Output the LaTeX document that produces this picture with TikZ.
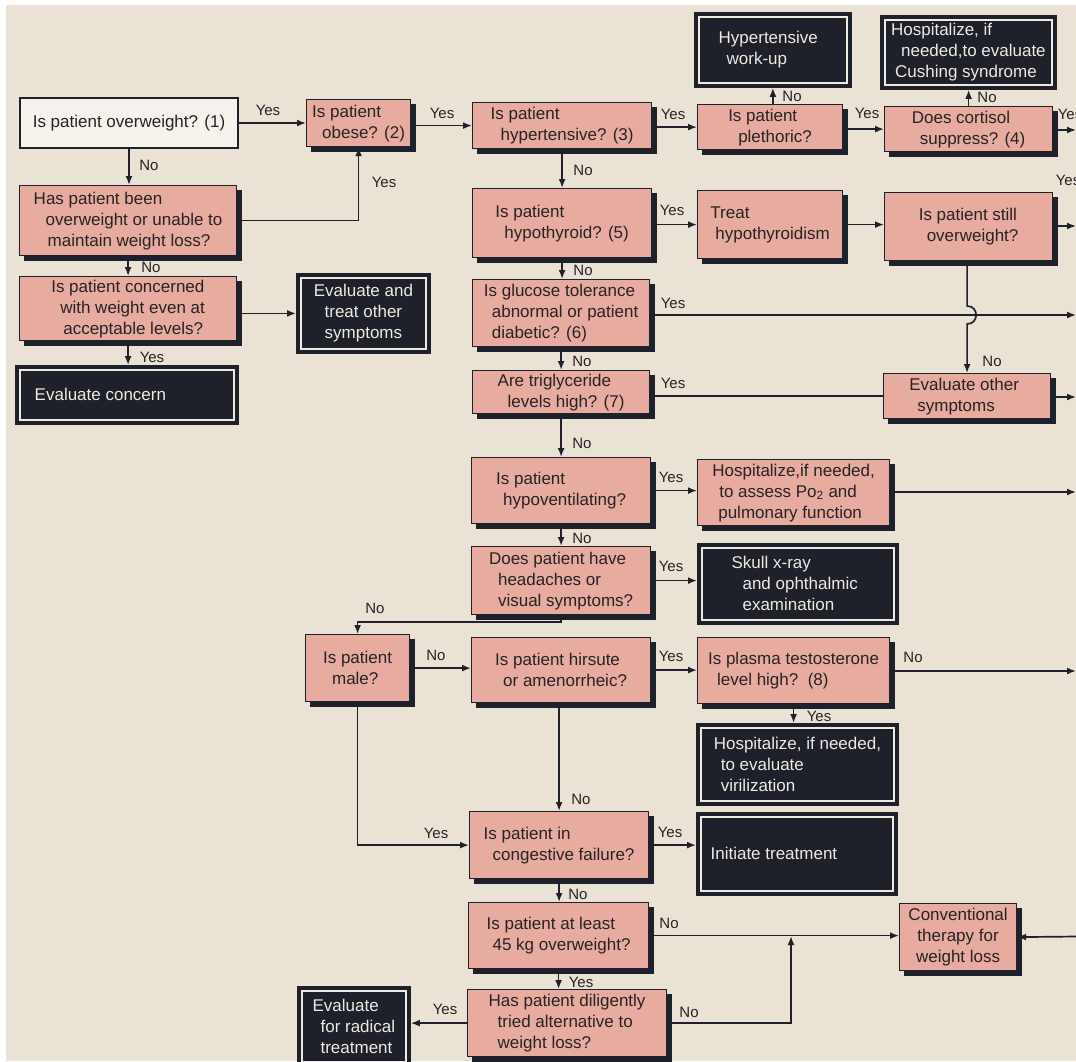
\documentclass[tikz,border=0pt]{standalone}
\usepackage{fontspec}
\setmainfont{Liberation Sans}
\usetikzlibrary{arrows.meta,calc}

\definecolor{paper}{RGB}{233,226,213}
\definecolor{rose}{RGB}{231,171,159}
\definecolor{ink}{RGB}{30,32,42}
\definecolor{cream}{RGB}{238,234,226}
\definecolor{txt}{RGB}{40,34,36}
\definecolor{whitebox}{RGB}{246,243,237}

\newcommand\boxfont{\fontsize{17pt}{21pt}\selectfont}
\newcommand\labfont{\fontsize{15pt}{18pt}\selectfont}
\newcommand\indn[1]{\hspace*{#1pt}}

\pgfdeclarelayer{paperlayer}
\pgfdeclarelayer{wirelayer}
\pgfsetlayers{paperlayer,wirelayer,main}

\tikzset{
  qbox/.style={fill=rose, draw=ink, line width=1.2pt, anchor=north west,
    inner sep=0pt, align=left, text=txt, font=\boxfont,
    preaction={fill=ink, draw=ink, transform canvas={shift={(5pt,-5pt)}}}},
  wbox/.style={fill=whitebox, draw=ink, line width=2pt, anchor=north west,
    inner sep=0pt, align=left, text=txt, font=\boxfont},
  dbox/.style={fill=ink, draw=ink, line width=0.8pt, anchor=north west,
    inner sep=0pt, align=left, text=cream, font=\boxfont,
    path picture={\draw[cream, line width=1.5pt]
      ([shift={(4.5pt,4.5pt)}]path picture bounding box.south west) rectangle
      ([shift={(-4.5pt,-4.5pt)}]path picture bounding box.north east);}},
  lab/.style={font=\labfont, text=txt, inner sep=0pt},
  wire/.style={draw=ink, line width=1.7pt},
  arr/.style={wire, -{Latex[length=9pt,width=7pt]}}
}

\begin{document}
\begin{tikzpicture}[x=1pt, y=-1pt]
\useasboundingbox (0,0) rectangle (1076,1061);

\begin{pgfonlayer}{paperlayer}
  \fill[white] (0,0) rectangle (1076,1061);
  \fill[paper] (6,5) rectangle (1076,1061);
\end{pgfonlayer}

% ---- left column
\node[wbox, minimum width=218pt, minimum height=50pt] (overw) at (19,97) {Is patient overweight? (1)};
\node[qbox, minimum width=104pt, minimum height=47pt] (obese) at (306,99) {Is patient\\\indn{10}obese? (2)};
\node[qbox, minimum width=217pt, minimum height=70pt] (overw2) at (19,185)
  {Has patient been\\\indn{12}overweight or unable to\\\indn{14}maintain weight loss?};
\node[qbox, minimum width=217pt, minimum height=64pt] (concern) at (19,276)
  {Is patient concerned\\\indn{9}with weight even at\\\indn{12}acceptable levels?};
\node[dbox, minimum width=134pt, minimum height=80pt, align=center] (evtreat) at (296,273)
  {Evaluate and\\treat other\\symptoms};
\node[dbox, minimum width=223pt, minimum height=59pt] (evconc) at (15,365)
  {Evaluate concern\hspace*{53pt}};

% ---- top row
\node[qbox, minimum width=179pt, minimum height=46pt] (hyper) at (472,102) {Is patient\\\indn{10}hypertensive? (3)};
\node[qbox, minimum width=145pt, minimum height=45pt] (pleth) at (697,104) {Is patient\\\indn{10}plethoric?};
\node[dbox, minimum width=157pt, minimum height=75pt] (workup) at (694,12) {Hypertensive\\\indn{8}work-up\hspace*{20pt}\hspace*{20pt}};
\node[qbox, minimum width=168pt, minimum height=45pt] (cort) at (884,106) {Does cortisol\\\indn{8}suppress? (4)};
\node[dbox, minimum width=176pt, minimum height=74pt] (cush) at (880,15)
  {Hospitalize, if\\\indn{10}needed,to evaluate\\\indn{4}Cushing syndrome};

% ---- middle column
\node[qbox, minimum width=179pt, minimum height=69pt] (hypo) at (472,188) {Is patient\\\indn{9}hypothyroid? (5)};
\node[qbox, minimum width=145pt, minimum height=68pt] (treat) at (697,190) {Treat\\\indn{5}hypothyroidism};
\node[qbox, minimum width=168pt, minimum height=68pt] (still) at (884,192) {Is patient still\\\indn{8}overweight?};
\node[qbox, minimum width=177pt, minimum height=67pt] (gluc) at (472,279)
  {Is glucose tolerance\\\indn{8}abnormal or patient\\\indn{8}diabetic? (6)};
\node[qbox, minimum width=177pt, minimum height=43pt] (trig) at (472,370) {Are triglyceride\\\indn{10}levels high? (7)};
\node[qbox, minimum width=167pt, minimum height=45pt] (evoth) at (883,373) {Evaluate other\\\indn{8}symptoms\hspace*{30pt}};
\node[qbox, minimum width=179pt, minimum height=66pt] (hypov) at (471,457) {Is patient\\\indn{7}hypoventilating?};
\node[qbox, minimum width=192pt, minimum height=66pt] (po2) at (697,459)
  {Hospitalize,if needed,\\\indn{7}to assess Po\textsubscript{2} and\\\indn{6}pulmonary function};
\node[qbox, minimum width=179pt, minimum height=68pt] (head) at (471,546)
  {Does patient have\\\indn{9}headaches or\\\indn{9}visual symptoms?};
\node[dbox, minimum width=201pt, minimum height=81pt] (skull) at (697,543)
  {Skull x-ray\\\indn{11}and ophthalmic\\\indn{11}examination\hspace*{30pt}};
\node[qbox, minimum width=104pt, minimum height=67pt] (male) at (305,634) {Is patient\\\indn{9}male?};
\node[qbox, minimum width=179pt, minimum height=65pt] (hirs) at (471,637) {Is patient hirsute\\\indn{8}or amenorrheic?};
\node[qbox, minimum width=192pt, minimum height=66pt] (testo) at (697,637)
  {Is plasma testosterone\\\indn{9}level high?~~(8)};
\node[dbox, minimum width=202pt, minimum height=82pt] (viril) at (696,723)
  {Hospitalize, if needed,\\\indn{7}to evaluate\\\indn{7}virilization};
\node[qbox, minimum width=179pt, minimum height=67pt] (cong) at (469,811) {Is patient in\\\indn{9}congestive failure?};
\node[dbox, minimum width=201pt, minimum height=83pt] (init) at (696,812) {Initiate treatment\hspace*{46pt}};
\node[qbox, minimum width=180pt, minimum height=66pt] (kg45) at (468,902) {Is patient at least\\\indn{6}45 kg overweight?};
\node[qbox, minimum width=117pt, minimum height=67pt, align=center] (conv) at (899,903)
  {Conventional\\therapy for\\weight loss};
\node[qbox, minimum width=199pt, minimum height=67pt] (dilig) at (467,989)
  {Has patient diligently\\\indn{9}tried alternative to\\\indn{9}weight loss?};
\node[dbox, minimum width=113pt, minimum height=80pt] (radical) at (297,986)
  {Evaluate\\\indn{8}for radical\\\indn{8}treatment};

% ---- free ends at the right margin
\coordinate (rc) at (1076,130);
\coordinate (rs) at (1076,226);
\coordinate (rg) at (1076,315);
\coordinate (re) at (1076,397);
\coordinate (rp) at (1076,492);
\coordinate (rt) at (1076,671);
\coordinate (rv) at (1076,936.5);
\coordinate (merge) at (791,936);

% ---- connectors
\begin{pgfonlayer}{wirelayer}
\draw[arr] (overw.east) -- (overw.east -| obese.west);
\draw[arr] (obese.east |- hyper.west) -- (hyper.west);
\draw[arr] (overw.south) -- (overw.south |- overw2.north);
\draw[arr] (overw2.east) -| (obese.south);
\draw[arr] (overw2.south) -- (overw2.south |- concern.north);
\draw[arr] (concern.east |- evtreat.west) -- (evtreat.west);
\draw[arr] (concern.south) -- (concern.south |- evconc.north);

\draw[arr] (hyper.east |- pleth.west) -- (pleth.west);
\draw[arr] (workup.south |- pleth.north) -- (workup.south);
\draw[arr] (pleth.east |- cort.west) -- (cort.west);
\draw[arr] (cort.north) -- (cort.north |- cush.south);
\draw[arr] (cort.east |- rc) -- (rc);

\draw[arr] (hyper.south) -- (hyper.south |- hypo.north);
\draw[arr] (hypo.east |- treat.west) -- (treat.west);
\draw[arr] (treat.east) -- (treat.east -| still.west);
\draw[arr] (still.east |- rs) -- (rs);
\draw[arr] (still.south -| evoth.north) -- ($(evoth.north |- rg)+(0pt,9pt)$)
  .. controls +(12pt,0pt) and +(12pt,0pt) .. ($(evoth.north |- rg)+(0pt,-9pt)$)
  -- (evoth.north);

\draw[arr] (hypo.south) -- (hypo.south |- gluc.north);
\draw[arr] (gluc.east |- rg) -- (rg);
\draw[arr] (gluc.south) -- (gluc.south |- trig.north);
\draw[wire] (trig.east |- evoth.west) -- (evoth.west);
\draw[arr] (evoth.east |- re) -- (re);
\draw[arr] (trig.south) -- (trig.south |- hypov.north);

\draw[arr] (hypov.east) -- (hypov.east -| po2.west);
\draw[arr] (po2.east |- rp) -- (rp);
\draw[arr] (hypov.south) -- (hypov.south |- head.north);
\draw[arr] (head.east) -- (head.east -| skull.west);
\draw[arr] (head.south) -- ++(0,7) -| (male.north);

\draw[arr] (male.east) -- (male.east -| hirs.west);
\draw[arr] (hirs.east) -- (hirs.east -| testo.west);
\draw[arr] (testo.east |- rt) -- (rt);
\draw[arr] (testo.south) -- (testo.south |- viril.north);
\draw[arr] (cong.north |- hirs.south) -- (cong.north);
\draw[arr] (male.south) |- (cong.west);

\draw[arr] (cong.east) -- (cong.east -| init.west);
\draw[arr] (cong.south) -- (cong.south |- kg45.north);
\draw[arr] (kg45.east) -- (kg45.east -| conv.west);
\draw[arr] (rv) -- (conv.east);
\draw[arr] (kg45.south) -- (kg45.south |- dilig.north);
\draw[arr] (dilig.east) -| (merge);
\draw[arr] (dilig.west) -- (dilig.west -| radical.east);
\end{pgfonlayer}

% ---- branch labels
\node[lab] (l01) at (268,110) {Yes};
\node[lab] (l02) at (442,113) {Yes};
\node[lab] (l03) at (149,165) {No};
\node[lab] (l04) at (384,182) {Yes};
\node[lab] (l05) at (151,267) {No};
\node[lab] (l06) at (152,357) {Yes};
\node[lab] (l07) at (673,114) {Yes};
\node[lab] (l08) at (792,96) {No};
\node[lab] (l09) at (867,113) {Yes};
\node[lab] (l10) at (987,97) {No};
\node[lab] (l11) at (1070,114) {Yes};
\node[lab] (l12) at (583,170) {No};
\node[lab] (l13) at (672,210) {Yes};
\node[lab] (l14) at (1068,180) {Yes};
\node[lab] (l15) at (992,361) {No};
\node[lab] (l16) at (583,270) {No};
\node[lab] (l17) at (673,303) {Yes};
\node[lab] (l18) at (582,361) {No};
\node[lab] (l19) at (673,383) {Yes};
\node[lab] (l20) at (582,443) {No};
\node[lab] (l21) at (671,477) {Yes};
\node[lab] (l22) at (582,538) {No};
\node[lab] (l23) at (671,566) {Yes};
\node[lab] (l24) at (375,608) {No};
\node[lab] (l25) at (436,655) {No};
\node[lab] (l26) at (671,656) {Yes};
\node[lab] (l27) at (913,657) {No};
\node[lab] (l28) at (819,716) {Yes};
\node[lab] (l29) at (581,799) {No};
\node[lab] (l30) at (436,833) {Yes};
\node[lab] (l31) at (670,832) {Yes};
\node[lab] (l32) at (578,894) {No};
\node[lab] (l33) at (669,923) {No};
\node[lab] (l34) at (581,982) {Yes};
\node[lab] (l35) at (689,1012) {No};
\node[lab] (l36) at (445,1009) {Yes};
\end{tikzpicture}
\end{document}
